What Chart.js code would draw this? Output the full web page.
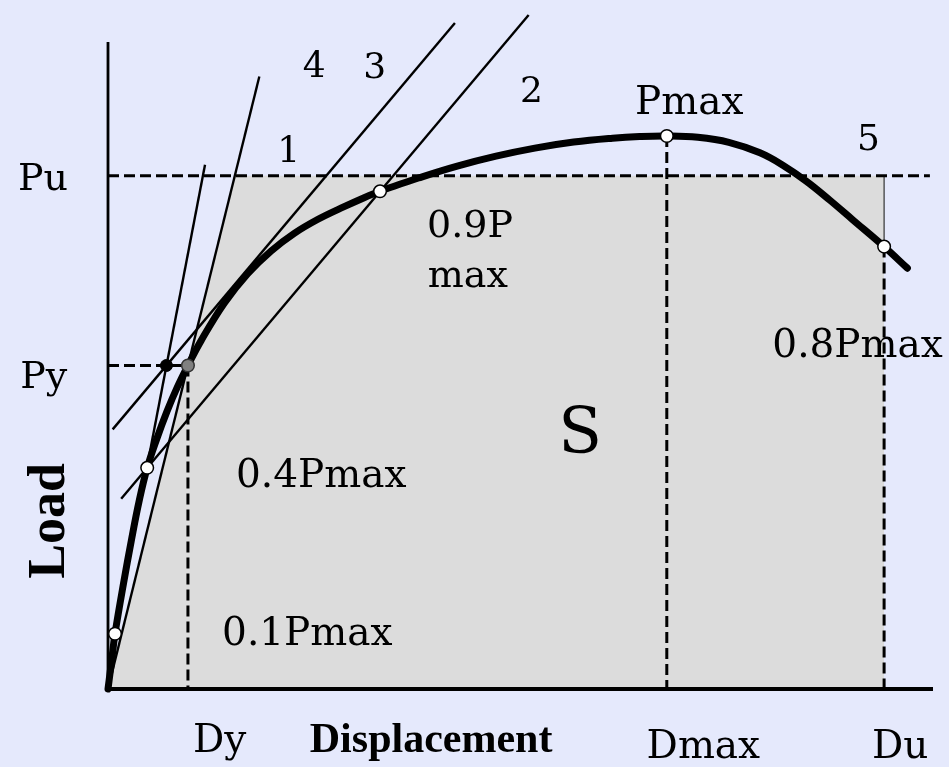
<!DOCTYPE html>
<html>
<head>
<meta charset="utf-8">
<script src="https://cdn.jsdelivr.net/npm/chart.js@4/dist/chart.umd.min.js"></script>
<style>
  html, body { margin: 0; padding: 0; background: #e5e9fc; }
  #wrap { width: 949px; height: 767px; }
</style>
</head>
<body>
<div id="wrap"><canvas id="chart" width="949" height="767"></canvas></div>
<script>
// Characteristic values of the load–displacement curve (load in % of Pmax)
const PMAX = 100;
const PU = 92.8;
const PY = 58.5;
const DY = 10.3;
const DMAX = 72;
const DU = 100;
const X_END = 106.3;   // end of the displacement axis
const Y_END = 117;     // end of the load axis

// Measured skeleton curve
const curveDisp = [0, 0.3, 0.6, 0.9, 2, 3, 4, 5.05, 6.3, 7.6, 8.9, 10.3, 12, 15, 18, 21, 24, 27, 30, 33, 35.05, 36, 40, 45, 50, 55, 60, 65, 68.5, 72, 76, 80, 84, 87, 90, 93, 96, 100, 103];
const curveLoad = [0, 3.3, 6.7, 10, 19.1, 26.8, 33.9, 40, 45.3, 50.2, 54.5, 58.5, 63.0, 69.8, 75.1, 79.2, 82.4, 84.9, 86.95, 88.85, 90, 90.5, 92.4, 94.55, 96.35, 97.8, 98.9, 99.6, 99.9, 100, 99.76, 98.86, 96.96, 94.68, 91.8, 88.4, 84.8, 80, 76.1];

// Marked points on the curve: 0.1Pmax, 0.4Pmax, 0.9Pmax, Pmax, 0.8Pmax (post-peak)
const markDisp = [0.9, 5.05, 35.05, DMAX, DU];
const markLoad = [10, 40, 90, PMAX, 80];

// Construction lines (start and end of each)
const lineInitial = [[0.9, 10], [12.5, 94.8]];        // through 0.1Pmax and 0.4Pmax
const lineSecant = [[0, 0], [19.5, 110.75]];          // origin through (Dy, Py)
const lineSecant2 = [[1.7, 34.4], [54.2, 121.9]];     // through 0.4Pmax and 0.9Pmax
const lineParallel = [[0.6, 46.95], [44.7, 120.45]];  // parallel, through the yield intersection
const yieldCross = [7.53, PY];                         // intersection point
const yieldPoint = [DY, PY];                           // yield point on the curve

// Equivalent energy area S
const areaDisp = [0, 16.34, DU, DU];
const areaLoad = [0, PU, PU, 0];

// Text labels: [text, displacement, load, font]
const SERIF = '"DejaVu Serif", "Liberation Serif", serif';
const TIMES = '"Liberation Serif", "Times New Roman", serif';
const labels = [
  ['Pu', -11.6, 90.2, '38px ' + SERIF],
  ['Py', -11.3, 54.4, '38px ' + SERIF],
  ['4', 25.1, 110.7, '36px ' + SERIF],
  ['3', 32.9, 110.5, '36px ' + SERIF],
  ['1', 21.8, 95.3, '36px ' + SERIF],
  ['2', 53.1, 106.1, '36px ' + SERIF],
  ['Pmax', 67.9, 104.0, '39px ' + SERIF],
  ['5', 96.5, 97.5, '36px ' + SERIF],
  ['0.8Pmax', 85.6, 60.0, '39px ' + SERIF],
  ['0.9P', 41.1, 81.7, '38px ' + SERIF],
  ['max', 41.2, 72.7, '38px ' + SERIF],
  ['0.4Pmax', 16.5, 36.5, '39px ' + SERIF],
  ['0.1Pmax', 14.7, 8.0, '39px ' + SERIF],
  ['S', 58.0, 42.7, '64px ' + SERIF],
  ['Dy', 10.95, -11.4, '39px ' + SERIF],
  ['Displacement', 26.0, -11.4, 'bold 42px ' + TIMES],
  ['Dmax', 69.4, -12.5, '39px ' + SERIF],
  ['Du', 98.45, -12.5, '39px ' + SERIF]
];
const axisTitleY = ['Load', -7.35, 30.4, 'bold 52px ' + TIMES];

const pts = (xs, ys) => xs.map((x, i) => ({ x, y: ys[i] }));
const seg = (s) => s.map(([x, y]) => ({ x, y }));

const INK = '#000000';
const GREY_FILL = '#dcdcdc';

const thin = (data, order) => ({
  data: seg(data), borderColor: INK, borderWidth: 2.4, pointRadius: 0,
  fill: false, clip: false, order
});
const dashed = (data) => ({
  data: seg(data), borderColor: INK, borderWidth: 3, borderDash: [11, 5],
  pointRadius: 0, fill: false, clip: false, order: 7
});

const backgroundPlugin = {
  id: 'paper',
  beforeDraw(chart) {
    const ctx = chart.ctx;
    ctx.save();
    ctx.fillStyle = '#e5e9fc';
    ctx.fillRect(0, 0, chart.width, chart.height);
    ctx.restore();
  }
};

const labelPlugin = {
  id: 'textLabels',
  afterDatasetsDraw(chart) {
    const ctx = chart.ctx;
    const xs = chart.scales.x, ys = chart.scales.y;
    ctx.save();
    ctx.fillStyle = INK;
    ctx.textAlign = 'left';
    ctx.textBaseline = 'alphabetic';
    labels.forEach(([t, x, y, f]) => {
      ctx.font = f;
      ctx.fillText(t, xs.getPixelForValue(x), ys.getPixelForValue(y));
    });
    const [t, x, y, f] = axisTitleY;
    ctx.translate(xs.getPixelForValue(x), ys.getPixelForValue(y));
    ctx.rotate(-Math.PI / 2);
    ctx.font = f;
    ctx.textAlign = 'center';
    ctx.textBaseline = 'middle';
    ctx.fillText(t, 0, 0);
    ctx.restore();
  }
};

new Chart(document.getElementById('chart'), {
  type: 'line',
  data: {
    datasets: [
      // area S
      {
        data: pts(areaDisp, areaLoad), borderWidth: 0, borderColor: 'rgba(0,0,0,0)',
        backgroundColor: GREY_FILL, fill: 'origin', pointRadius: 0, tension: 0, order: 10
      },
      // reference levels
      dashed([[0, PU], [X_END - 0.4, PU]]),
      dashed([[0, PY], [DY, PY]]),
      dashed([[DY, PY], [DY, 0]]),
      dashed([[DMAX, PMAX], [DMAX, 0]]),
      dashed([[DU, 80], [DU, 0]]),
      {
        data: seg([[DU, PU], [DU, 80]]), borderColor: '#333333', borderWidth: 1.2,
        pointRadius: 0, fill: false, clip: false, order: 7
      },
      // construction lines
      thin(lineInitial, 6),
      thin(lineSecant, 6),
      thin(lineSecant2, 6),
      thin(lineParallel, 6),
      // axes
      {
        data: seg([[0, Y_END], [0, 0]]), borderColor: INK, borderWidth: 2.8,
        pointRadius: 0, fill: false, clip: false, order: 5
      },
      {
        data: seg([[0, 0], [X_END, 0]]), borderColor: INK, borderWidth: 4,
        pointRadius: 0, fill: false, clip: false, order: 5
      },
      // skeleton curve
      {
        data: pts(curveDisp, curveLoad), borderColor: INK, borderWidth: 7,
        borderCapStyle: 'round', borderJoinStyle: 'round',
        tension: 0.4, pointRadius: 0, fill: false, clip: false, order: 3
      },
      // characteristic points
      {
        data: pts(markDisp, markLoad), showLine: false, pointRadius: 6.3,
        pointBackgroundColor: '#ffffff', pointBorderColor: INK, pointBorderWidth: 1.5,
        clip: false, order: 1
      },
      {
        data: [{ x: yieldCross[0], y: yieldCross[1] }], showLine: false, pointRadius: 6,
        pointBackgroundColor: INK, pointBorderColor: INK, pointBorderWidth: 1,
        clip: false, order: 1
      },
      {
        data: [{ x: yieldPoint[0], y: yieldPoint[1] }], showLine: false, pointRadius: 6.3,
        pointBackgroundColor: '#808080', pointBorderColor: '#333333', pointBorderWidth: 1.5,
        clip: false, order: 1
      }
    ]
  },
  options: {
    responsive: false,
    animation: false,
    events: [],
    layout: { padding: { left: 108, right: 16, top: 42, bottom: 78 } },
    scales: {
      x: { type: 'linear', min: 0, max: X_END, display: false },
      y: { type: 'linear', min: 0, max: Y_END, display: false }
    },
    plugins: { legend: { display: false }, tooltip: { enabled: false } }
  },
  plugins: [backgroundPlugin, labelPlugin]
});
</script>
</body>
</html>
